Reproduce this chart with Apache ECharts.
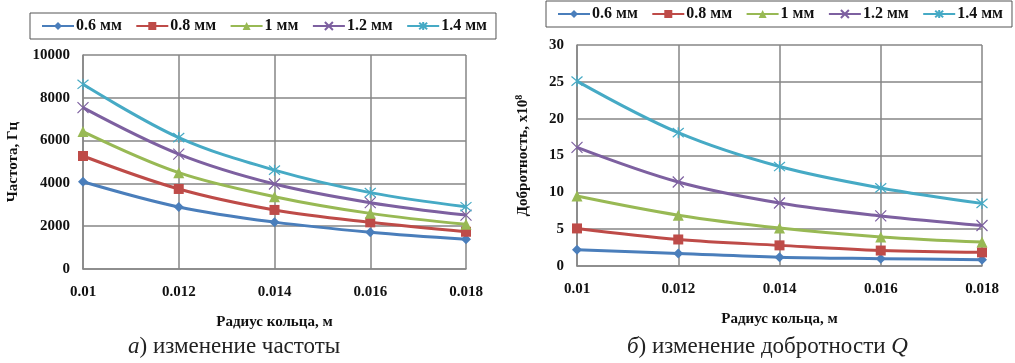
<!DOCTYPE html>
<html>
<head>
<meta charset="utf-8">
<script src="https://cdn.jsdelivr.net/npm/echarts@6/dist/echarts.min.js"></script>
<style>
  html, body { margin: 0; padding: 0; background: #fff; }
  #chart { width: 1015px; height: 363px; }
</style>
</head>
<body>
<div id="chart"></div>
<script>
// радиус кольца, м
var radius = ['0.01', '0.012', '0.014', '0.016', '0.018'];
var seriesNames = ['0.6 мм', '0.8 мм', '1 мм', '1.2 мм', '1.4 мм'];

// частота, Гц
var freq06 = [4080, 2900, 2190, 1720, 1390];
var freq08 = [5280, 3740, 2760, 2180, 1740];
var freq10 = [6420, 4500, 3380, 2600, 2090];
var freq12 = [7540, 5370, 3970, 3100, 2520];
var freq14 = [8630, 6140, 4620, 3570, 2910];

// добротность, x10^8
var q06 = [2.2, 1.7, 1.2, 1.0, 0.85];
var q08 = [5.1, 3.6, 2.8, 2.1, 1.85];
var q10 = [9.5, 6.9, 5.15, 3.95, 3.25];
var q12 = [16.1, 11.4, 8.55, 6.8, 5.5];
var q14 = [25.1, 18.1, 13.5, 10.6, 8.5];

var freqTicks = [0, 10000, 2000];
var qTicks = [0, 30, 5];

var colors = ['#4a7ebb', '#be4b48', '#98b954', '#7d60a0', '#46aac5'];
var symbols = [
    'diamond',
    'rect',
    'triangle',
    'path://M-5,-5L5,5M-5,5L5,-5',
    'path://M-5,-5L5,5M-5,5L5,-5M0,-6L0,6'
];
var serif = '"Liberation Serif", "Times New Roman", serif';
var gridColor = '#868686';

function makeSeries(data, i, axisIdx) {
    var stroke = i >= 3;
    return {
        name: seriesNames[i],
        type: 'line',
        xAxisIndex: axisIdx,
        yAxisIndex: axisIdx,
        data: data,
        smooth: 0.35,
        symbol: symbols[i],
        symbolSize: stroke ? 11 : (i === 2 ? 11 : 10),
        lineStyle: { color: colors[i], width: 3 },
        itemStyle: {
            color: colors[i],
            borderColor: colors[i],
            borderWidth: stroke ? 1.2 : 0
        },
        emphasis: { disabled: true }
    };
}

function xAxisOf(gridIdx) {
    return {
        type: 'category',
        gridIndex: gridIdx,
        data: radius,
        boundaryGap: false,
        name: 'Радиус кольца, м',
        nameLocation: 'middle',
        nameGap: 46,
        nameTextStyle: { fontFamily: serif, fontWeight: 'bold', fontSize: 15, color: '#111' },
        axisLine: { lineStyle: { color: gridColor, width: 1.5 } },
        axisTick: { show: false },
        axisLabel: { margin: 16, fontFamily: serif, fontWeight: 'bold', fontSize: 15, color: '#111' },
        splitLine: { show: true, lineStyle: { color: gridColor, width: 1.5 } }
    };
}

function yAxisOf(gridIdx, ticks, name, gap) {
    return {
        type: 'value',
        gridIndex: gridIdx,
        min: ticks[0],
        max: ticks[1],
        interval: ticks[2],
        name: name,
        nameLocation: 'middle',
        nameGap: gap,
        nameRotate: 90,
        nameTextStyle: {
            fontFamily: serif, fontWeight: 'bold', fontSize: 15, color: '#111',
            rich: {
                t: { fontFamily: serif, fontWeight: 'bold', fontSize: 15, color: '#111' },
                s: { fontFamily: serif, fontWeight: 'bold', fontSize: 10, color: '#111', verticalAlign: 'top', padding: [0, 0, 8, 0] }
            }
        },
        axisLine: { show: true, lineStyle: { color: gridColor, width: 1.5 } },
        axisTick: { show: false },
        axisLabel: {
            margin: 13, fontFamily: serif, fontWeight: 'bold', fontSize: 15, color: '#111',
            formatter: function (v) { return String(v); }
        },
        splitLine: { show: true, lineStyle: { color: gridColor, width: 1.5 } }
    };
}

function legendOf(left, top) {
    return {
        data: seriesNames,
        left: left,
        top: top,
        width: 480,
        orient: 'horizontal',
        borderColor: '#555',
        borderWidth: 1,
        padding: [5, 9, 5, 11],
        itemWidth: 32,
        itemHeight: 10,
        itemGap: 13.5,
        selectedMode: false,
        textStyle: { fontFamily: serif, fontWeight: 'bold', fontSize: 16, color: '#111', padding: [0, 0, 0, -3] }
    };
}

var freqData = [freq06, freq08, freq10, freq12, freq14];
var qData = [q06, q08, q10, q12, q14];
var series = [];
freqData.forEach(function (d, i) { series.push(makeSeries(d, i, 0)); });
qData.forEach(function (d, i) { series.push(makeSeries(d, i, 1)); });

var captionStyle = {
    fontFamily: serif, fontWeight: 'normal', fontSize: 23, color: '#222',
    rich: {
        i: { fontFamily: serif, fontStyle: 'italic', fontSize: 23, color: '#222' },
        n: { fontFamily: serif, fontSize: 23, color: '#222' }
    }
};

var chart = echarts.init(document.getElementById('chart'), null, { renderer: 'canvas' });
chart.setOption({
    animation: false,
    backgroundColor: '#fff',
    color: colors,
    title: [
        { text: '{i|а}{n|) изменение частоты}', left: 128, top: 335, padding: 0, textStyle: captionStyle },
        { text: '{i|б}{n|) изменение добротности }{i|Q}', left: 627, top: 335, padding: 0, textStyle: captionStyle }
    ],
    legend: [legendOf(30, 13), legendOf(546, 1)],
    grid: [
        { left: 83, top: 55, width: 383, height: 214 },
        { left: 577, top: 45, width: 405, height: 221 }
    ],
    xAxis: [xAxisOf(0), xAxisOf(1)],
    yAxis: [
        yAxisOf(0, freqTicks, 'Частота, Гц', 62),
        yAxisOf(1, qTicks, '{t|Добротность, x10}{s|8}', 45)
    ],
    series: series
});
</script>
</body>
</html>
